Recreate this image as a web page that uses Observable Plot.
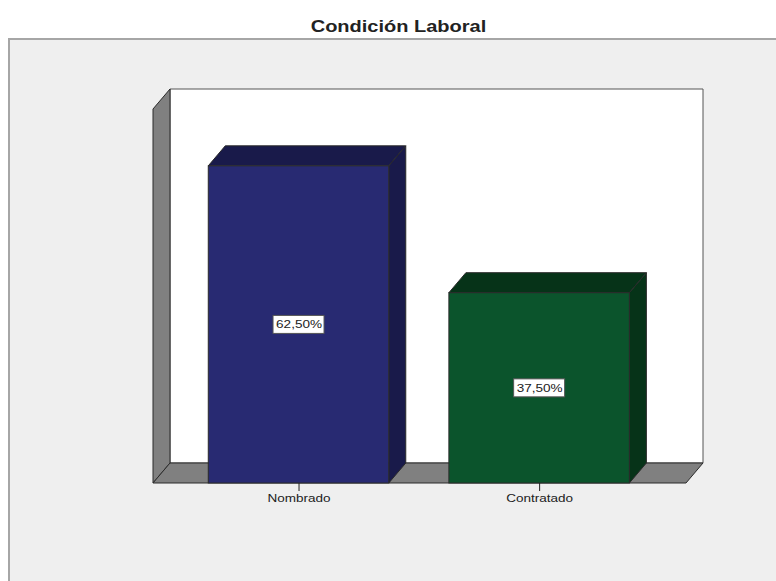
<!DOCTYPE html>
<html lang="es">
<head>
<meta charset="utf-8">
<title>Condición Laboral</title>
<script src="https://cdn.jsdelivr.net/npm/d3@7"></script>
<script src="https://cdn.jsdelivr.net/npm/@observablehq/plot@0.6"></script>
<style>
  html, body { margin: 0; background: #fff; }
  body { width: 776px; height: 581px; overflow: hidden; font-family: "Liberation Sans", Arial, sans-serif; }
  #title { height: 38px; box-sizing: border-box; padding: 17px 0 0 0; margin-left: 21px; text-align: center;
           font-size: 16px; line-height: 20px; font-weight: bold; color: #222; transform: scaleX(1.25); transform-origin: 50% 50%; }
  #panel { margin-left: 8px; border-left: 2px solid #a6a6a6; border-top: 2px solid #a6a6a6; height: 541px; width: 766px; }
  #panel svg { display: block; }
</style>
</head>
<body>
<div id="title">Condición Laboral</div>
<div id="panel"></div>
<script>
// Survey result: share of staff by employment status.
const categories = ["Nombrado", "Contratado"];
const percentages = [62.5, 37.5];
const frontColors = ["#282a72", "#0b542c"];
const sideColors = ["#191a4a", "#063318"];
const wallColor = "#808080";
const edgeColor = "#2a2a2a";
const yMax = 73.7;

const rows = categories.map((category, i) => ({
  category,
  percentage: percentages[i],
  front: frontColors[i],
  side: sideColors[i]
}));

// Oblique projection offset of the chart's depth, in pixels.
const depthX = 17;
const depthY = 20;

const formatPercent = v => v.toFixed(2).replace(".", ",") + "%";
const points = pts => pts.map(p => p.join(",")).join(" ");

function polygon(g, pts, fill, stroke = edgeColor) {
  g.append("polygon")
    .attr("points", points(pts))
    .attr("fill", fill)
    .attr("stroke", stroke)
    .attr("stroke-width", 1)
    .attr("stroke-linejoin", "round");
}

// Back wall, left wall and floor of the chart box.
function walls(index, scales, values, dims) {
  const g = d3.create("svg:g");
  const left = dims.marginLeft;
  const right = dims.width - dims.marginRight;
  const base = scales.y(0);
  const top = scales.y(yMax);
  polygon(g, [[left + depthX, top - depthY], [right + depthX, top - depthY],
              [right + depthX, base - depthY], [left + depthX, base - depthY]], "#fff", "#555");
  polygon(g, [[left, base], [left, top], [left + depthX, top - depthY], [left + depthX, base - depthY]], wallColor);
  polygon(g, [[left, base], [left + depthX, base - depthY], [right + depthX, base - depthY], [right, base]], wallColor);
  return g.node();
}

// Top and side faces of each bar, extruded from the scaled front face.
function barDepth(index, scales) {
  const g = d3.create("svg:g");
  const w = scales.x.bandwidth();
  for (const r of rows) {
    const x0 = scales.x(r.category);
    const x1 = x0 + w;
    const y0 = scales.y(0);
    const y1 = scales.y(r.percentage);
    polygon(g, [[x0, y1], [x0 + depthX, y1 - depthY], [x1 + depthX, y1 - depthY], [x1, y1]], r.side);
    polygon(g, [[x1, y1], [x1 + depthX, y1 - depthY], [x1 + depthX, y0 - depthY], [x1, y0]], r.side);
  }
  return g.node();
}

// White boxes behind the value labels, centred on each bar.
function labelBoxes(index, scales) {
  const g = d3.create("svg:g");
  const w = scales.x.bandwidth();
  for (const r of rows) {
    g.append("rect")
      .attr("x", scales.x(r.category) + w / 2 - 25.5)
      .attr("y", scales.y(r.percentage / 2) - 9)
      .attr("width", 51)
      .attr("height", 18)
      .attr("fill", "#fff")
      .attr("stroke", "#555");
  }
  return g.node();
}

const chart = Plot.plot({
  width: 766,
  height: 541,
  marginLeft: 143,
  marginRight: 90,
  marginTop: 69,
  marginBottom: 98,
  style: { background: "#efefef", fontFamily: "Liberation Sans, Arial, sans-serif", color: "#222" },
  x: { domain: categories, paddingInner: 0.2498, paddingOuter: 0.2325, align: 0.494, round: false, axis: null },
  y: { domain: [0, yMax], axis: null },
  marks: [
    walls,
    barDepth,
    Plot.barY(rows, {
      x: "category",
      y: "percentage",
      fill: "front",
      stroke: edgeColor,
      strokeWidth: 1
    }),
    Plot.axisX({ tickSize: 8, tickPadding: 3, fontSize: 11, stroke: "#222", label: null }),
    labelBoxes,
    Plot.text(rows, {
      x: "category",
      y: d => d.percentage / 2,
      text: d => formatPercent(d.percentage),
      fontSize: 11,
      fill: "#222"
    })
  ]
});

// The chart's lettering is set wide: stretch each label about its anchor.
for (const t of chart.querySelectorAll("text")) {
  t.setAttribute("transform", `${t.getAttribute("transform") || ""} scale(1.23,1)`);
}

document.getElementById("panel").append(chart);
</script>
</body>
</html>
